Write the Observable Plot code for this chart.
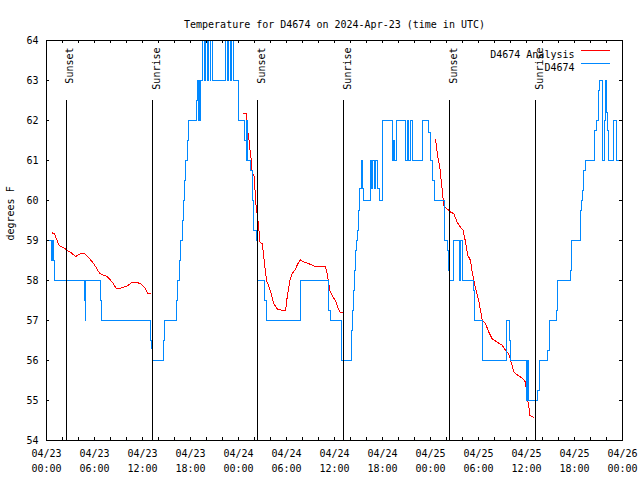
<!DOCTYPE html>
<html><head><meta charset="utf-8">
<script src="https://cdn.jsdelivr.net/npm/d3@7"></script>
<script src="https://cdn.jsdelivr.net/npm/@observablehq/plot@0.6"></script>
<style>body{margin:0;background:#fff}</style>
</head><body><div id="chart"></div>
<script>
// Hours since 2024-04-23 00:00 UTC
const startTime = "2024-04-23T00:00:00Z";
const titleText = "Temperature for D4674 on 2024-Apr-23 (time in UTC)";
const yLabel = "degrees F";
const seriesNames = ["D4674 Analysis", "D4674"];
const seriesColors = ["#ff0000", "#0088ff"];

// Observations (D4674), stepped
const obsHours = [0,0.58,0.66,0.71,0.78,0.83,1.0,4.75,4.8,4.85,4.92,6.75,6.88,13.0,13.1,13.2,14.6,14.7,
  16.25,16.4,16.6,16.8,17.0,17.15,17.3,17.4,17.65,17.75,18.8,18.85,18.95,19.05,19.15,19.25,19.45,19.55,19.8,19.9,
  20.1,20.2,20.45,20.55,20.8,22.4,22.6,22.7,23.0,23.1,23.35,24.0,24.75,25.0,25.05,25.12,25.5,25.8,25.92,26.25,
  26.33,26.4,27.25,27.5,31.7,35.3,35.45,36.9,38.08,38.2,38.33,38.5,38.63,38.75,38.92,39.04,39.17,39.33,39.45,
  39.58,40.5,40.62,40.8,41.0,41.1,41.4,41.6,41.96,42.05,43.2,43.35,43.45,43.8,44.9,45.1,45.3,45.5,45.7,
  47.0,47.75,47.95,48.2,48.5,49.8,50.1,50.25,50.4,50.9,51.65,51.8,52.0,53.4,53.55,
  54.55,57.5,57.55,57.9,58.0,60.0,60.1,60.2,60.3,61.4,61.65,62.65,62.9,63.7,63.9,65.45,65.6,66.7,66.85,67.0,
  67.15,67.35,68.45,68.8,68.95,69.1,69.45,69.55,69.75,69.85,70.0,70.1,70.25,70.85,71.25,72];
const obsTemps = [59,58.5,59,58.5,59,58.5,58,57.5,58,57,58,57.5,57,56.5,56.3,56,56.5,57,
  57.5,58,58.5,59,59.5,60,60.5,61,61.5,62,62.5,63,62,63,62,63,63.5,64,63,64,
  63,64,63,64,63,64,63,64,63,64,63,62,61.5,61,62,61,60.75,60,59.25,59,
  58.25,58,57.5,57,58,57.25,57,56,56.75,57.25,57.75,58.25,58.75,59,59.25,59.75,60.3,61,60.3,
  60,61,60.3,61,60.3,61,60.3,60,60.5,62,61,61.5,61,62,61,62,61,62,61,
  62,61.7,61,60.5,60,59,58.75,58.25,58,59,58,59,58,57.75,57,
  56,56.5,57,56.5,56,55,56,55.5,55,55.25,56,56.25,57,57.25,58,58.25,59,59.75,60,60.25,
  60.75,61,61.75,62,62.75,63,61.75,61,62,63,62.2,61.75,61,62,61,61];

// Analysis (D4674 Analysis); null marks a gap
const anaHours = [0.71,1.0,1.25,1.54,1.75,2.25,2.58,3.0,3.63,4.25,4.75,5.29,5.92,6.67,7.58,8.21,8.75,9.25,10.08,
  10.71,11.75,12.38,12.67,13.0, 18,
  24.67,25.0,25.08,25.3,25.42,25.58,25.7,26.0,26.12,26.33,26.54,26.67,26.96,27.17,27.5,27.8,28.08,28.42,28.83,
  29.46,29.88,30.08,30.42,30.71,31.13,31.42,31.75,32.17,32.79,33.63,34.88,35.17,35.42,35.83,36.13,36.42,36.67,36.96, 42,
  48.63,48.92,49.17,49.33,49.46,49.67,50.08,50.5,50.92,51.33,51.75,52.08,52.38,52.67,53.0,53.21,53.5,53.75,54.04,
  54.46,54.88,55.29,55.71,56.33,56.96,57.38,57.79,58.13,58.42,58.92,59.58,59.88,60.08,60.29,60.42,60.83];
const anaTemps = [59.19,59.17,59.04,58.9,58.85,58.81,58.75,58.71,58.6,58.67,58.67,58.57,58.42,58.17,58.1,57.96,57.79,57.81,57.86,
  57.96,57.93,57.79,57.68,57.67, null,
  62.18,62.18,61.82,61.54,61.29,61.04,60.73,60.57,60.0,59.67,59.33,58.96,58.92,58.58,58.0,57.85,57.67,57.42,57.29,
  57.25,57.25,57.58,58.0,58.17,58.29,58.42,58.52,58.46,58.42,58.35,58.35,58.08,57.75,57.58,57.5,57.33,57.21,57.21, null,
  61.52,61.08,60.83,60.5,60.25,59.87,59.79,59.71,59.67,59.46,59.33,59.25,58.96,58.63,58.5,58.21,57.92,57.71,57.5,
  57.0,56.92,56.71,56.54,56.46,56.38,56.25,56.17,55.92,55.71,55.63,55.54,55.46,55.04,54.88,54.63,54.58];

// Sunset / sunrise markers
const eventNames = ["Sunset","Sunrise","Sunset","Sunrise","Sunset","Sunrise"];
const eventHours = [2.45,13.27,26.42,37.17,50.42,61.17];

// Ticks
const yTicks = [54,55,56,57,58,59,60,61,62,63,64];
const xTickHours = [0,6,12,18,24,30,36,42,48,54,60,66,72];
const xMinorHours = d3.range(0, 73, 2);

const t0 = new Date(startTime);
const toDate = h => d3.utcMinute.offset(t0, Math.round(h * 60));

const obs = obsHours.map((h, i) => ({t: toDate(h), v: obsTemps[i]}));
const ana = anaHours.map((h, i) => ({t: toDate(h), v: anaTemps[i]}));
const events = eventHours.map((h, i) => ({t: toDate(h), name: eventNames[i]}));
const xTicks = xTickHours.map(toDate);
const xMinor = xMinorHours.map(toDate);

const lineShape = {draw(context, length) { context.moveTo(0, 0); context.lineTo(0, -length); }};
const crisp = {shapeRendering: "crispEdges"};

const chart = Plot.plot({
  width: 640, height: 480,
  marginTop: 40, marginBottom: 40, marginLeft: 46, marginRight: 18,
  style: {fontFamily: "'DejaVu Sans Mono', monospace", fontSize: "10px", background: "#fff", color: "#000"},
  x: {type: "utc", domain: [toDate(0), toDate(72)]},
  y: {domain: [54, 64]},
  marks: [
    Plot.axisX({ticks: xTicks, tickFormat: d3.utcFormat("%m/%d\n%H:%M"), tickSize: 0, tickPadding: 6, lineHeight: 1.5, label: null}),
    Plot.axisY({ticks: yTicks, tickSize: 0, tickPadding: 8, label: null}),
    Plot.line(ana, {x: "t", y: "v", stroke: seriesColors[0], strokeWidth: 1, ...crisp}),
    Plot.line(obs, {x: "t", y: "v", stroke: seriesColors[1], strokeWidth: 1, curve: "step-after", ...crisp}),
    Plot.ruleX(events, {x: "t", stroke: "#000", strokeWidth: 1, insetTop: 60, ...crisp}),
    Plot.text(events, {x: "t", text: "name", frameAnchor: "top", rotate: -90, textAnchor: "end", dy: 7, fill: "#000"}),
    Plot.tickX(xMinor, {x: d => d, insetTop: 397, stroke: "#000", ...crisp}),
    Plot.tickX(xMinor, {x: d => d, insetBottom: 397, stroke: "#000", ...crisp}),
    Plot.tickY(yTicks, {y: d => d, insetRight: 573, stroke: "#000", ...crisp}),
    Plot.tickY(yTicks, {y: d => d, insetLeft: 573, stroke: "#000", ...crisp}),
    Plot.frame({stroke: "#000", ...crisp}),
    Plot.text([titleText], {frameAnchor: "top", dy: -20, fill: "#000"}),
    Plot.text([yLabel], {frameAnchor: "left", rotate: -90, dx: -36, fill: "#000"}),
    Plot.text([seriesNames[0]], {frameAnchor: "top-right", textAnchor: "end", dx: -48, dy: 10, fill: "#000"}),
    Plot.text([seriesNames[1]], {frameAnchor: "top-right", textAnchor: "end", dx: -48, dy: 23, fill: "#000"}),
    Plot.vector([0], {frameAnchor: "top-right", dx: -42, dy: 9.5, length: 29, rotate: 90, anchor: "start", shape: lineShape, stroke: seriesColors[0], strokeWidth: 1, ...crisp}),
    Plot.vector([0], {frameAnchor: "top-right", dx: -42, dy: 22.5, length: 29, rotate: 90, anchor: "start", shape: lineShape, stroke: seriesColors[1], strokeWidth: 1, ...crisp})
  ]
});
document.getElementById("chart").appendChild(chart);
</script></body></html>
